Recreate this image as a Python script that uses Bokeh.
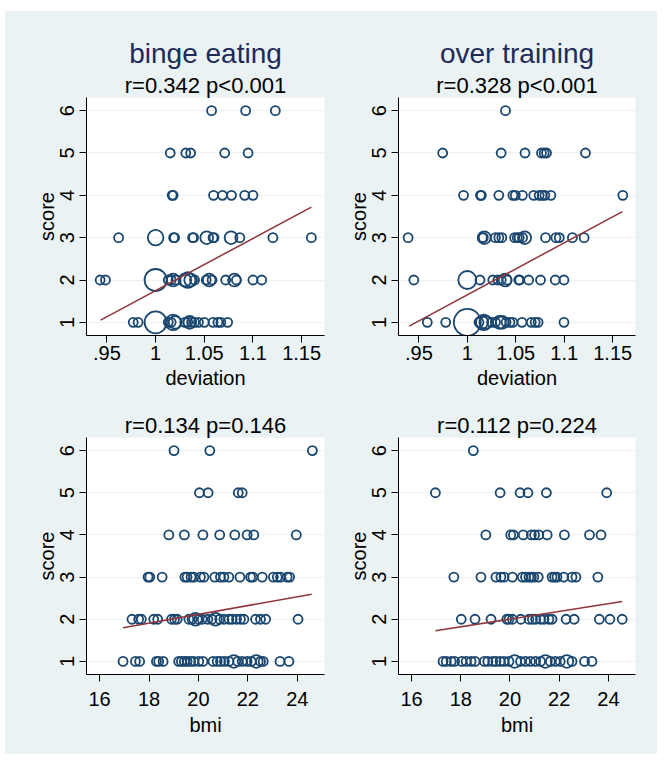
from collections import Counter
import math
from bokeh.plotting import figure
from bokeh.models import Title, FixedTicker, ColumnDataSource
from bokeh.layouts import row, column
from bokeh.embed import file_html
from bokeh.resources import INLINE

# ---------------- data ----------------
scores = [6, 5, 4, 3, 2, 1]

# binge eating vs deviation: deviation values of observations at each score (6..1)
be_dev = [
    [1.0575, 1.0925, 1.123],
    [1.015, 1.031, 1.036, 1.071, 1.095],
    [1.017, 1.018, 1.0595, 1.0687, 1.078, 1.0915, 1.100],
    [0.962, 1.0, 1.0, 1.0, 1.0185, 1.0195, 1.038, 1.039, 1.0525, 1.0525, 1.059, 1.060,
     1.0775, 1.0775, 1.0865, 1.1205, 1.16],
    [0.943, 0.9485, 1.0, 1.0, 1.0, 1.0, 1.0, 1.0, 1.013, 1.016, 1.018, 1.018, 1.021,
     1.030, 1.030, 1.033, 1.033, 1.033, 1.036, 1.036, 1.040, 1.052, 1.055, 1.055, 1.058,
     1.072, 1.081, 1.081, 1.083, 1.100, 1.109],
    [0.977, 0.982, 1.0, 1.0, 1.0, 1.0, 1.0, 1.0, 1.013, 1.016, 1.018, 1.018, 1.018,
     1.020, 1.020, 1.030, 1.033, 1.035, 1.035, 1.037, 1.040, 1.044, 1.050, 1.059, 1.064,
     1.067, 1.074],
]
# over training vs deviation
ot_dev = [
    [1.0394],
    [0.9746, 1.0349, 1.0595, 1.0765, 1.0793, 1.0817, 1.1219],
    [0.9961, 1.0135, 1.0145, 1.0325, 1.047, 1.0495, 1.0568, 1.0685, 1.0741, 1.0772,
     1.080, 1.0862, 1.1604],
    [0.9389, 1.0155, 1.0165, 1.0175, 1.0175, 1.029, 1.0325, 1.0356, 1.0488, 1.0515,
     1.0535, 1.057, 1.0592, 1.0592, 1.0807, 1.0914, 1.0949, 1.1084, 1.1205],
    [0.9448, 1.0, 1.0, 1.0, 1.0, 1.0131, 1.0263, 1.0315, 1.035, 1.039, 1.039, 1.041,
     1.053, 1.054, 1.0633, 1.0755, 1.0907, 1.0997],
    [0.9587, 0.9777, 1.0, 1.0, 1.0, 1.0, 1.0, 1.0, 1.0, 1.0, 1.0, 1.012, 1.015,
     1.015, 1.017, 1.017, 1.017, 1.019, 1.019, 1.025, 1.029, 1.033, 1.033, 1.036, 1.036,
     1.040, 1.044, 1.047, 1.0564, 1.066, 1.070, 1.073, 1.0997],
]
# binge eating vs bmi
be_bmi = [
    [19.01, 20.46, 24.61],
    [20.04, 20.39, 21.61, 21.77],
    [18.80, 19.43, 20.18, 20.86, 21.47, 21.97, 22.24, 23.96],
    [17.96, 18.03, 18.53, 19.45, 19.54, 19.70, 19.81, 20.08, 20.22, 20.66, 20.89, 21.03,
     21.23, 21.68, 22.11, 22.20, 22.58, 23.03, 23.19, 23.32, 23.59, 23.69],
    [17.31, 17.58, 17.69, 18.19, 18.35, 18.91, 19.03, 19.14, 19.61, 19.74, 19.88, 19.88,
     20.01, 20.15, 20.38, 20.55, 20.69, 20.69, 20.86, 21.03, 21.23, 21.36, 21.54, 21.70,
     21.84, 22.31, 22.51, 22.72, 24.03],
    [16.95, 17.45, 17.62, 18.30, 18.39, 18.57, 19.20, 19.31, 19.43, 19.54, 19.68, 19.81,
     20.01, 20.18, 20.59, 20.76, 20.89, 21.05, 21.23, 21.43, 21.43, 21.59, 21.77, 21.97,
     22.14, 22.34, 22.34, 22.51, 22.62, 23.30, 23.66],
]
# over training vs bmi
ot_bmi = [
    [18.51],
    [16.97, 19.60, 20.41, 20.73, 21.48, 23.93],
    [19.02, 20.03, 20.14, 20.54, 20.87, 21.00, 21.17, 21.51, 22.21, 23.23, 23.70],
    [17.72, 18.82, 19.43, 19.63, 19.76, 20.10, 20.50, 20.63, 20.77, 20.87, 20.97, 21.15,
     21.71, 21.81, 21.91, 22.18, 22.52, 22.68, 23.57],
    [18.02, 18.58, 19.23, 19.87, 19.96, 20.10, 20.44, 20.77, 20.91, 21.04, 21.24, 21.38,
     21.58, 21.71, 22.28, 22.61, 23.63, 24.06, 24.56],
    [17.28, 17.41, 17.61, 17.75, 18.04, 18.22, 18.42, 18.58, 18.96, 19.10, 19.30, 19.43,
     19.60, 19.76, 19.96, 20.19, 20.19, 20.43, 20.63, 20.83, 21.04, 21.24, 21.44, 21.44,
     21.64, 21.84, 22.04, 22.31, 22.31, 22.52, 23.03, 23.33],
]

# fitted lines (end points)
be_dev_fit_x, be_dev_fit_y = [0.9435, 1.16], [1.055, 3.72]
ot_dev_fit_x, ot_dev_fit_y = [0.9400, 1.16], [0.912, 3.616]
be_bmi_fit_x, be_bmi_fit_y = [16.95, 24.58], [1.80, 2.593]
ot_bmi_fit_x, ot_bmi_fit_y = [16.97, 24.56], [1.726, 2.42]

dev_ticks = [0.95, 1, 1.05, 1.1, 1.15]
dev_tick_labels = [".95", "1", "1.05", "1.1", "1.15"]
bmi_ticks = [16, 18, 20, 22, 24]
bmi_tick_labels = ["16", "18", "20", "22", "24"]
score_ticks = [1, 2, 3, 4, 5, 6]

titles = ["binge eating", "over training"]
subtitles = ["r=0.342 p<0.001", "r=0.328 p<0.001", "r=0.134 p=0.146", "r=0.112 p=0.224"]

# ---------------- styling ----------------
BG = "#eaf2f3"
NAVY = "#1a476f"
MAROON = "#90353b"
TITLE_COL = "#1e2a5a"
FONT = "Liberation Sans"
BASE = 9


def aggregate(rows):
    xs, ys, ws = [], [], []
    for s, vals in zip(scores, rows):
        for v, c in sorted(Counter(vals).items()):
            xs.append(v)
            ys.append(s)
            ws.append(c)
    return dict(x=xs, y=ys, size=[BASE * math.sqrt(c) for c in ws])


def make(rows, fx, fy, xr, ticks, labels, xlabel, sub, title, is_left, is_top):
    width = 327 if is_left else 325
    height = 388 if is_top else 355
    bl = 81 if is_left else 66
    fw = 238 if is_left else 237
    bt = 86 if is_top else 38
    fh = 238 if is_top else 237
    p = figure(width=width, height=height, x_range=xr, y_range=(0.69, 6.31),
               output_backend="svg", toolbar_location=None,
               min_border_left=bl, min_border_right=width - bl - fw,
               min_border_top=bt, min_border_bottom=height - bt - fh,
               border_fill_color=BG, background_fill_color="white",
               outline_line_color=None)
    p.add_layout(Title(text=sub, align="center", text_font=FONT, text_font_size="22px",
                       text_font_style="normal", text_color="black", standoff=0), "above")
    if title:
        p.add_layout(Title(text=title, align="center", text_font=FONT, text_font_size="28px",
                           text_font_style="normal", text_color=TITLE_COL, standoff=4), "above")
    p.xgrid.visible = False
    p.ygrid.grid_line_color = BG
    p.ygrid.grid_line_width = 1.2
    for ax in (p.xaxis[0], p.yaxis[0]):
        ax.axis_line_color = "black"
        ax.axis_line_width = 1
        ax.major_tick_line_color = "black"
        ax.major_tick_in = 0
        ax.major_tick_out = 7
        ax.minor_tick_line_color = None
        ax.major_label_text_font = FONT
        ax.major_label_text_font_size = "20px"
        ax.major_label_text_color = "black"
        ax.axis_label_text_font = FONT
        ax.axis_label_text_font_size = "20px"
        ax.axis_label_text_font_style = "normal"
        ax.axis_label_text_color = "black"
    p.xaxis.ticker = FixedTicker(ticks=ticks)
    p.xaxis.major_label_overrides = {t: l for t, l in zip(ticks, labels)}
    p.xaxis.axis_label = xlabel
    p.xaxis.major_label_standoff = 3 if is_top else 10
    p.xaxis.axis_label_standoff = 4 if is_top else 5
    p.yaxis.ticker = FixedTicker(ticks=score_ticks)
    p.yaxis.axis_label = "score"
    p.yaxis.major_label_orientation = "vertical"
    p.yaxis.major_label_standoff = 5
    p.yaxis.axis_label_standoff = 0
    src = ColumnDataSource(aggregate(rows))
    p.scatter("x", "y", size="size", source=src, marker="circle", fill_color=None,
              line_color=NAVY, line_width=1.8)
    p.line(fx, fy, line_color=MAROON, line_width=1.5)
    return p


dev_range = (0.929, 1.1735)
bmi_range = (15.47, 25.1)
p1 = make(be_dev, be_dev_fit_x, be_dev_fit_y, dev_range, dev_ticks, dev_tick_labels,
          "deviation", subtitles[0], titles[0], True, True)
p2 = make(ot_dev, ot_dev_fit_x, ot_dev_fit_y, dev_range, dev_ticks, dev_tick_labels,
          "deviation", subtitles[1], titles[1], False, True)
p3 = make(be_bmi, be_bmi_fit_x, be_bmi_fit_y, bmi_range, bmi_ticks, bmi_tick_labels,
          "bmi", subtitles[2], None, True, False)
p4 = make(ot_bmi, ot_bmi_fit_x, ot_bmi_fit_y, bmi_range, bmi_ticks, bmi_tick_labels,
          "bmi", subtitles[3], None, False, False)

top = row(p1, p2, styles={"background-color": BG})
bottom = row(p3, p4, styles={"background-color": BG})
layout = column(top, bottom, styles={"background-color": BG, "margin-top": "11px",
                                     "margin-left": "5px"})
open("out.html", "w").write(file_html(layout, INLINE))
